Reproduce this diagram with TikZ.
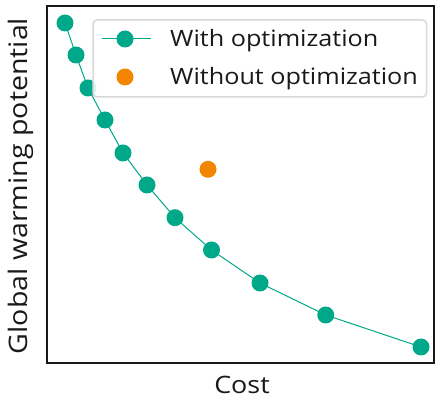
\documentclass[tikz,border=0pt]{standalone}
\usepackage{fontspec}
\setmainfont[FakeStretch=1.12]{Open Sans}
\definecolor{teal1}{RGB}{0,168,138}
\definecolor{orange1}{RGB}{242,134,0}
\definecolor{legframe}{RGB}{217,217,217}
\begin{document}
\begin{tikzpicture}[x=1pt,y=1pt,
  dot/.style={circle,fill=teal1,inner sep=0pt,minimum size=17pt},
  odot/.style={circle,fill=orange1,inner sep=0pt,minimum size=17pt},
  curve/.style={teal1,line width=1pt},
  spine/.style={line width=2pt,black!90},
  axlabel/.style={font=\fontsize{25.5}{30}\selectfont,text=black!90,inner sep=0pt},
  legtext/.style={font=\fontsize{22.5}{26}\selectfont,text=black!90,inner sep=0pt,anchor=base west}]
\useasboundingbox (0,0) rectangle (435,403);
% axes frame
\draw[spine] (46.7,39.7) rectangle (434,397);
% data
\coordinate (p1) at (65,380);
\coordinate (p2) at (76,348);
\coordinate (p3) at (88,315);
\coordinate (p4) at (105,283);
\coordinate (p5) at (123,250);
\coordinate (p6) at (147,218);
\coordinate (p7) at (175,185.3);
\coordinate (p8) at (211.5,153);
\coordinate (p9) at (260,120);
\coordinate (p10) at (325.7,88);
\coordinate (p11) at (421,56);
\draw[curve] (p1)--(p2)--(p3)--(p4)--(p5)--(p6)--(p7)--(p8)--(p9)--(p10)--(p11);
\foreach \i in {1,...,11} \node[dot] (d\i) at (p\i) {};
\node[odot] (o1) at (208,233.7) {};
% legend
\draw[legframe,line width=1.5pt,fill=white,fill opacity=0.85,rounded corners=4pt] (93,306) rectangle (426.5,383);
\coordinate (la) at (102,364);
\coordinate (lb) at (151,364);
\draw[curve] (la) -- (lb);
\node[dot] (ld) at (125,364) {};
\node[odot] (lo) at (125,326) {};
\node[legtext] (t1) at (170,356) {With optimization};
\node[legtext] (t2) at (170,318) {Without optimization};
% labels
\node[axlabel,font=\fontsize{24}{28}\selectfont] (xl) at (242,18) {Cost};
\node[axlabel,rotate=90] (yl) at (21,217) {Global warming potential};
\end{tikzpicture}
\end{document}
